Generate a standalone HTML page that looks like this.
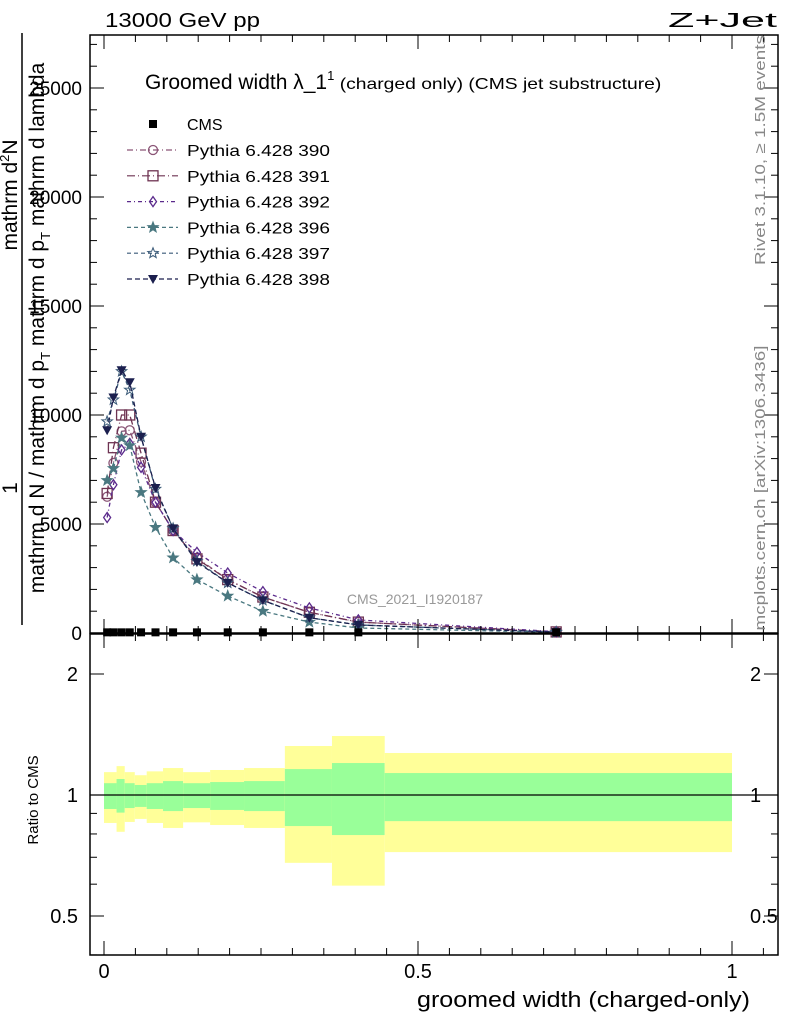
<!DOCTYPE html>
<html><head><meta charset="utf-8"><style>
body{margin:0;background:#fff}
svg text{font-family:"Liberation Sans",sans-serif}
</style></head><body>
<svg id="c" width="786" height="1024" viewBox="0 0 786 1024" xmlns="http://www.w3.org/2000/svg">
<text x="105" y="27" font-size="20" textLength="155" lengthAdjust="spacingAndGlyphs">13000 GeV pp</text>
<text x="668" y="27" font-size="20" textLength="109" lengthAdjust="spacingAndGlyphs">Z+Jet</text>
<g id="bands"></g>
<g id="main"></g>
<rect x="90" y="35" width="688" height="598" fill="none" stroke="#000" stroke-width="1.5"/>
<rect x="90" y="634" width="688" height="321" fill="none" stroke="#000" stroke-width="1.5"/>
<g id="axes"></g>
<text x="145" y="89" font-size="21">Groomed width λ_1<tspan font-size="13" dy="-9">1</tspan><tspan font-size="16" dy="9" textLength="327" lengthAdjust="spacingAndGlyphs"> (charged only) (CMS jet substructure)</tspan></text>
<g id="legend"></g>
<text x="415" y="604" font-size="14" fill="#999" text-anchor="middle">CMS_2021_I1920187</text>
<text transform="translate(765,150) rotate(-90)" font-size="15" fill="#888" text-anchor="middle" textLength="230" lengthAdjust="spacingAndGlyphs">Rivet 3.1.10, ≥ 1.5M events</text>
<text transform="translate(765,488) rotate(-90)" font-size="15" fill="#888" text-anchor="middle" textLength="285" lengthAdjust="spacingAndGlyphs">mcplots.cern.ch [arXiv:1306.3436]</text>
<text x="417" y="1007" font-size="22" textLength="333" lengthAdjust="spacingAndGlyphs">groomed width (charged-only)</text>
<text transform="translate(38,800) rotate(-90)" font-size="15" text-anchor="middle">Ratio to CMS</text>
<g>
<line x1="22" y1="33" x2="22" y2="625" stroke="#000" stroke-width="1.5"/>
<text transform="translate(17,488) rotate(-90)" font-size="21" text-anchor="middle">1</text>
<text transform="translate(17,195) rotate(-90)" font-size="21" text-anchor="middle">mathrm d<tspan font-size="13" dy="-8">2</tspan><tspan dy="8">N</tspan></text>
<text transform="translate(44,328) rotate(-90)" font-size="21" text-anchor="middle">mathrm d N / mathrm d p<tspan font-size="13" dy="6">T</tspan><tspan dy="-6"> mathrm d p</tspan><tspan font-size="13" dy="6">T</tspan><tspan dy="-6"> mathrm d lambda</tspan></text>
</g>
</svg>
<script>
const xs=[0.005,0.015,0.028,0.041,0.059,0.082,0.11,0.148,0.197,0.253,0.327,0.405,0.72];
const cms=[30,30,30,30,30,30,30,30,30,30,30,30,30];
const s390=[6250,7800,9250,9300,7850,6000,4700,3450,2450,1650,950,500,50];
const s391=[6400,8500,10000,10000,8250,6000,4700,3400,2450,1650,950,500,50];
const s392=[5300,6800,8400,8700,7600,6000,4700,3700,2750,1900,1150,600,60];
const s396=[7000,7550,8950,8600,6450,4850,3450,2450,1700,1000,500,230,30];
const s397=[9700,10700,12000,11150,9000,6600,4800,3300,2300,1500,700,370,40];
const s398=[9300,10800,12050,11500,9000,6650,4800,3250,2300,1500,700,370,40];
const bandEdges=[0,0.02,0.033,0.049,0.068,0.094,0.126,0.169,0.223,0.288,0.363,0.447,1.0];
const yelHi=[1.14,1.18,1.14,1.12,1.145,1.167,1.14,1.154,1.167,1.324,1.402,1.272];
const grnHi=[1.07,1.096,1.07,1.059,1.07,1.083,1.07,1.077,1.083,1.16,1.201,1.134];
const grnLo=[0.923,0.904,0.928,0.934,0.923,0.912,0.928,0.918,0.912,0.837,0.795,0.861];
const yelLo=[0.852,0.81,0.857,0.872,0.852,0.828,0.855,0.842,0.828,0.678,0.595,0.721];
const yTicks=[0,5000,10000,15000,20000,25000];
const xTicks=[0,0.5,1];
const rTicks=[0.5,1,2];
const NS="http://www.w3.org/2000/svg";
const X=v=>104+628*v, Y=v=>633-0.0218*v, R=r=>795-121*Math.log2(r);
function mk(t,a,p){const e=document.createElementNS(NS,t);for(const k in a)e.setAttribute(k,a[k]);p.appendChild(e);return e;}
const B=document.getElementById('bands'),M=document.getElementById('main'),A=document.getElementById('axes'),L=document.getElementById('legend');
for(let i=0;i<yelHi.length;i++){
 const x0=X(bandEdges[i]),x1=X(bandEdges[i+1]);
 const y=mk('rect',{x:x0,y:R(yelHi[i]),width:x1-x0,height:R(yelLo[i])-R(yelHi[i]),fill:'#ffff99'},B);
 
 
 const g=mk('rect',{x:x0,y:R(grnHi[i]),width:x1-x0,height:R(grnLo[i])-R(grnHi[i]),fill:'#99ff99'},B);
 
 
}
const rl=mk('line',{x1:90,x2:778,y1:R(1),y2:R(1),stroke:'#000','stroke-width':1.2},B);


function marker(type,x,y,c,p){
 let e;
 if(type==='circle')e=mk('circle',{cx:x,cy:y,r:4.5,fill:'none',stroke:c,'stroke-width':1.3},p);
 else if(type==='square')e=mk('rect',{x:x-5,y:y-5,width:10,height:10,fill:'none',stroke:c,'stroke-width':1.3},p);
 else if(type==='fsquare')e=mk('rect',{x:x-4,y:y-4,width:8,height:8,fill:c},p);
 else if(type==='diamond')e=mk('polygon',{points:`${x},${y-5} ${x+3.5},${y} ${x},${y+5} ${x-3.5},${y}`,fill:'none',stroke:c,'stroke-width':1.3},p);
 else if(type==='tri')e=mk('polygon',{points:`${x-5},${y-4} ${x+5},${y-4} ${x},${y+5}`,fill:c},p);
 else{let pts=[];for(let k=0;k<10;k++){const r=k%2?2.3:5.5,a=-Math.PI/2+k*Math.PI/5;pts.push((x+r*Math.cos(a)).toFixed(1)+','+(y+r*Math.sin(a)).toFixed(1));}
  e=mk('polygon',{points:pts.join(' '),fill:type==='star'?c:'none',stroke:c,'stroke-width':1},p);}
 return e;
}
const series=[
 {n:'Pythia 6.428 390',d:s390,c:'#8a5576',m:'circle',dash:'6,3,1,3'},
 {n:'Pythia 6.428 391',d:s391,c:'#6e3352',m:'square',dash:'8,3,1,3'},
 {n:'Pythia 6.428 392',d:s392,c:'#5b2a8c',m:'diamond',dash:'4,3,1,3'},
 {n:'Pythia 6.428 396',d:s396,c:'#4a7880',m:'star',dash:'4,3'},
 {n:'Pythia 6.428 397',d:s397,c:'#3a5a78',m:'ostar',dash:'4,3'},
 {n:'Pythia 6.428 398',d:s398,c:'#1b1f4e',m:'tri',dash:'5,3'}];
series.forEach((s,i)=>{
 const g=mk('g',{},M);
 
 
 const pl=mk('polyline',{points:xs.map((x,j)=>X(x)+','+Y(s.d[j])).join(' '),fill:'none',stroke:s.c,'stroke-width':1.3,'stroke-dasharray':s.dash},g);
 
 
 xs.forEach((x,j)=>{const e=marker(s.m,X(x),Y(s.d[j]),s.c,g);
  
  });
 const ly=150+i*25.8;
 const ll=mk('line',{x1:127,x2:178,y1:ly,y2:ly,stroke:s.c,'stroke-width':1.2,'stroke-dasharray':s.dash},L);
 
 
 const lm=marker(s.m,153,ly,s.c,L);
 
 
 const t=mk('text',{x:187,y:ly+6,'font-size':16,textLength:143,lengthAdjust:'spacingAndGlyphs'},L);t.textContent=s.n;
 
 
});
const cg=mk('g',{},M);


xs.forEach((x,j)=>{const e=marker('fsquare',X(x),Y(cms[j]),'#000',cg);
 
 });
const cl=marker('fsquare',153,124,'#000',L);


const ct=mk('text',{x:187,y:130,'font-size':16},L);ct.textContent='CMS';


for(let v=0;v<=27000;v+=1000){const y=Y(v),big=v%5000===0;
 mk('line',{x1:90,x2:90+(big?14:7),y1:y,y2:y,stroke:'#000'},A);mk('line',{x1:778,x2:778-(big?14:7),y1:y,y2:y,stroke:'#000'},A);}
yTicks.forEach(v=>{const t=mk('text',{x:82,y:Y(v)+7,'font-size':19,'text-anchor':'end'},A);t.textContent=v;
 
 });
for(let v=0;v<=1.07;v+=0.05){const x=X(v),big=Math.abs(v*2-Math.round(v*2))<1e-6;
 [633,955].forEach(b=>mk('line',{x1:x,x2:x,y1:b,y2:b-(big?14:7),stroke:'#000'},A));
 mk('line',{x1:x,x2:x,y1:35,y2:35+(big?14:7),stroke:'#000'},A);mk('line',{x1:x,x2:x,y1:634,y2:634+(big?14:7),stroke:'#000'},A);}
xTicks.forEach(v=>{const t=mk('text',{x:X(v),y:978,'font-size':20,'text-anchor':'middle'},A);t.textContent=v;
 
 });
[0.4,0.5,0.6,0.7,0.8,0.9,1,2].forEach(r=>{const y=R(r),big=rTicks.includes(r);
 mk('line',{x1:90,x2:90+(big?14:7),y1:y,y2:y,stroke:'#000'},A);mk('line',{x1:778,x2:778-(big?14:7),y1:y,y2:y,stroke:'#000'},A);});
rTicks.forEach(r=>{const t=mk('text',{x:78,y:R(r)+7,'font-size':20,'text-anchor':'end'},A);t.textContent=r;
 
 
 const t2=mk('text',{x:750,y:R(r)+7,'font-size':20},A);t2.textContent=r;
 
 });
</script>
</body></html>
